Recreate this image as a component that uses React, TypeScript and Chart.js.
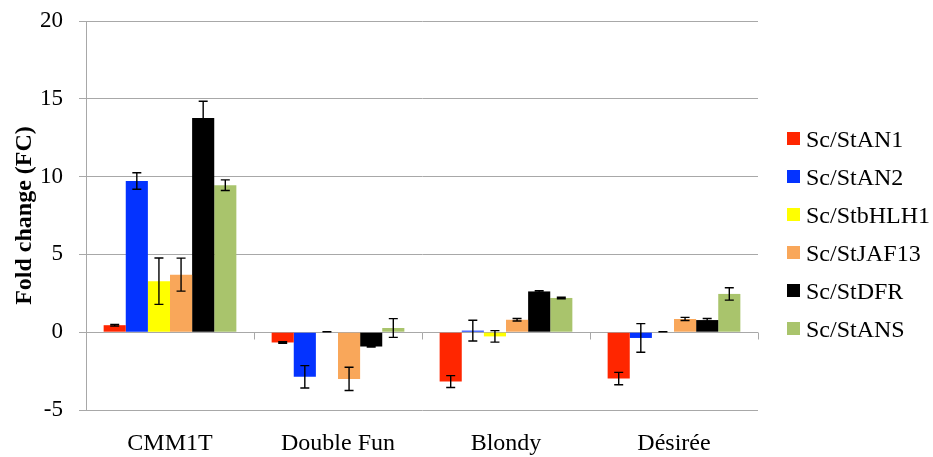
import React, { useEffect, useRef } from "react";
import { Chart, registerables } from "chart.js";

Chart.register(...registerables);

const categories = ["CMM1T", "Double Fun", "Blondy", "Désirée"];
const seriesNames = ["Sc/StAN1", "Sc/StAN2", "Sc/StbHLH1", "Sc/StJAF13", "Sc/StDFR", "Sc/StANS"];
const seriesColors = ["#ff2600", "#0433ff", "#ffff00", "#f9a75a", "#000000", "#a9c46c"];

const an1 = [0.45, -0.66, -3.17, -2.98];
const an2 = [9.72, -2.87, 0.1, -0.37];
const bhlh1 = [3.28, 0.03, -0.27, 0.03];
const jaf13 = [3.7, -3.0, 0.8, 0.85];
const dfr = [13.77, -0.92, 2.62, 0.78];
const ans = [9.45, 0.27, 2.2, 2.46];

const an1Err = [0.05, 0.05, 0.38, 0.4];
const an2Err = [0.53, 0.72, 0.67, 0.92];
const bhlh1Err = [1.49, 0.0, 0.37, 0.0];
const jaf13Err = [1.06, 0.75, 0.08, 0.1];
const dfrErr = [1.07, 0.03, 0.05, 0.1];
const ansErr = [0.34, 0.6, 0.05, 0.4];

const yTicks = [-5, 0, 5, 10, 15, 20];

const seriesValues = [an1, an2, bhlh1, jaf13, dfr, ans];
const seriesErrors = [an1Err, an2Err, bhlh1Err, jaf13Err, dfrErr, ansErr];

const FONT = '"Liberation Serif", "Times New Roman", serif';
const GRID = "#a8a8a8";

const errorBarPlugin = {
  id: "errorBars",
  afterDatasetsDraw(chart: any) {
    const ctx = chart.ctx;
    const y = chart.scales.y;
    ctx.save();
    ctx.strokeStyle = "#000";
    ctx.lineWidth = 1.4;
    chart.data.datasets.forEach((ds: any, i: number) => {
      const meta = chart.getDatasetMeta(i);
      meta.data.forEach((el: any, j: number) => {
        const v = ds.data[j];
        const e = ds.errors[j];
        const x = el.x;
        const y1 = y.getPixelForValue(v - e);
        const y2 = y.getPixelForValue(v + e);
        ctx.beginPath();
        ctx.moveTo(x, y1);
        ctx.lineTo(x, y2);
        ctx.moveTo(x - 4.5, y1);
        ctx.lineTo(x + 4.5, y1);
        ctx.moveTo(x - 4.5, y2);
        ctx.lineTo(x + 4.5, y2);
        ctx.stroke();
      });
    });
    ctx.restore();
  },
};

const axisPlugin = {
  id: "zeroAxis",
  beforeDatasetsDraw(chart: any) {
    const ctx = chart.ctx;
    const y = chart.scales.y;
    const area = chart.chartArea;
    const y0 = Math.round(y.getPixelForValue(0)) + 0.5;
    const n = chart.data.labels.length;
    const w = (area.right - area.left) / n;
    ctx.save();
    ctx.strokeStyle = GRID;
    ctx.lineWidth = 1;
    ctx.beginPath();
    for (let k = 0; k <= n; k++) {
      const x = Math.round(area.left + k * w) + 0.5;
      ctx.moveTo(x, y0);
      ctx.lineTo(x, y0 + 7);
    }
    ctx.stroke();
    ctx.restore();
  },
};

const legendPlugin = {
  id: "customLegend",
  afterDraw(chart: any) {
    const ctx = chart.ctx;
    ctx.save();
    ctx.font = "normal 400 24px " + FONT;
    ctx.textBaseline = "middle";
    ctx.textAlign = "left";
    chart.data.datasets.forEach((ds: any, i: number) => {
      const cy = 139 + i * 38;
      ctx.fillStyle = ds.backgroundColor;
      ctx.fillRect(787, cy - 7, 13, 13);
      ctx.fillStyle = "#000";
      ctx.fillText(ds.label, 806, cy + 2);
    });
    ctx.restore();
  },
};

export default function App() {
  const ref = useRef<HTMLCanvasElement>(null);
  useEffect(() => {
    document.body.style.margin = "0";
    const chart = new Chart(ref.current!, {
      type: "bar",
      data: {
        labels: categories,
        datasets: seriesNames.map((name, i) => ({
          label: name,
          data: seriesValues[i],
          errors: seriesErrors[i],
          backgroundColor: seriesColors[i],
          borderWidth: 0,
          categoryPercentage: 0.79,
          barPercentage: 1,
        })) as any,
      },
      options: {
        animation: false,
        responsive: false,
        maintainAspectRatio: false,
        layout: { autoPadding: false, padding: { left: 0, right: 175, top: 21, bottom: 0 } },
        plugins: {
          legend: { display: false },
          tooltip: { enabled: false },
        },
        scales: {
          x: {
            grid: { display: false },
            border: { display: false },
            ticks: { color: "#000", font: { family: FONT, size: 24 }, padding: 11 },
            afterFit(scale: any) {
              scale.height = 47;
            },
          },
          y: {
            min: -5,
            max: 20,
            afterBuildTicks(scale: any) {
              scale.ticks = yTicks.map((v) => ({ value: v }));
            },
            grid: { color: GRID, lineWidth: 1, tickLength: 7, drawTicks: true },
            border: { display: true, color: GRID, width: 1 },
            ticks: { color: "#000", font: { family: FONT, size: 23 }, padding: 16 },
            title: {
              display: true,
              text: "Fold change (FC)",
              color: "#000",
              font: { family: FONT, size: 24, weight: "bold" },
              padding: { top: 10, bottom: 0 },
            },
            afterFit(scale: any) {
              scale.width = 86;
              scale.paddingTop = 0;
              scale.paddingBottom = 0;
            },
          },
        },
      } as any,
      plugins: [axisPlugin, errorBarPlugin, legendPlugin],
    });
    return () => chart.destroy();
  }, []);
  return (
    <div style={{ width: 933, height: 457 }}>
      <canvas ref={ref} width={933} height={457} style={{ display: "block" }} />
    </div>
  );
}
